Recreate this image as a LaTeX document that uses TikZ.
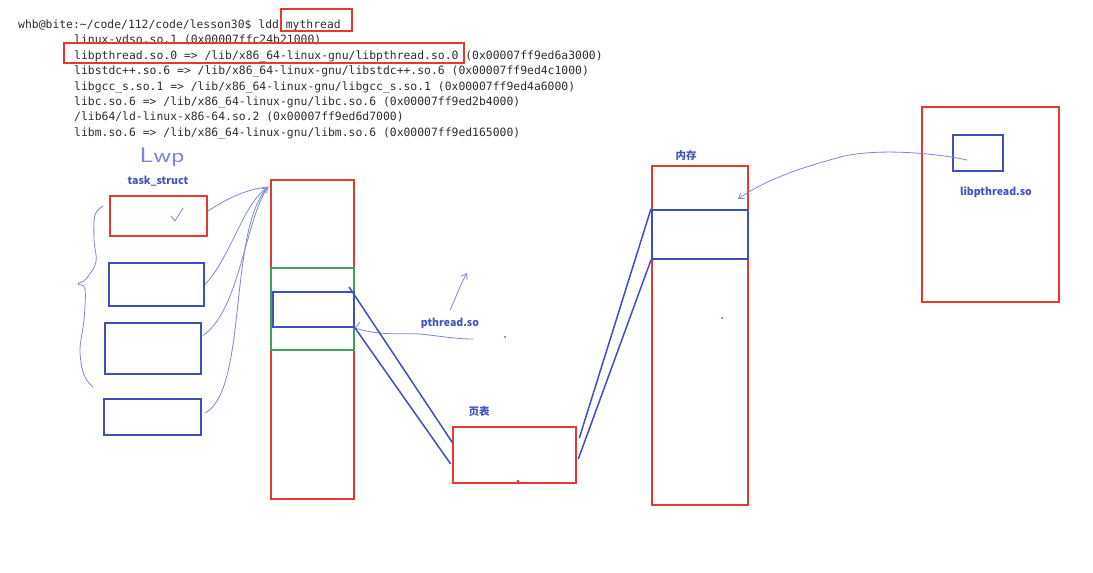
\documentclass[tikz,border=0pt]{standalone}
\usepackage{fontspec}
\setmonofont{DejaVu Sans Mono}
\newfontfamily\cjk{Noto Sans CJK SC}
\usetikzlibrary{calc,arrows.meta}
\definecolor{boxred}{HTML}{E8392E}
\definecolor{boxblue}{HTML}{3F4FBF}
\definecolor{boxgreen}{HTML}{3DA35D}
\definecolor{inkblue}{HTML}{7C88D4}
\definecolor{tagblue}{HTML}{4353C2}
\definecolor{termgray}{HTML}{2E2E2E}

\tikzset{
  termline/.style={anchor=base west, inner sep=0pt,
        font=\ttfamily\fontsize{11.4}{13}\selectfont, text=termgray},
  redbox/.style={rectangle, draw=boxred, line width=2.6pt, inner sep=0pt},
  bluebox/.style={rectangle, draw=boxblue, line width=2.1pt, inner sep=0pt},
  greenbox/.style={rectangle, draw=boxgreen, line width=1.5pt, inner sep=0pt},
  tag/.style={font=\cjk\bfseries\fontsize{10.5}{12}\selectfont, text=tagblue, inner sep=0pt},
  ink/.style={draw=inkblue, line width=0.8pt, line cap=round, line join=round},
  link/.style={draw=boxblue, line width=1.5pt},
  barb/.style={-{Straight Barb[length=5pt, width=7pt]}},
}

\begin{document}
\begin{tikzpicture}[x=1pt, y=-1pt]
  \useasboundingbox (0,0) rectangle (1093,573);

  % ldd output
  \node[termline] (term0) at (18,28)    {whb@bite:\string~/code/112/code/lesson30\$ ldd mythread};
  \node[termline] (term1) at (74,43.5)  {linux-vdso.so.1 (0x00007ffc24b21000)};
  \node[termline] (term2) at (74,59)    {libpthread.so.0 => /lib/x86\_64-linux-gnu/libpthread.so.0 (0x00007ff9ed6a3000)};
  \node[termline] (term3) at (74,74.5)  {libstdc++.so.6 => /lib/x86\_64-linux-gnu/libstdc++.so.6 (0x00007ff9ed4c1000)};
  \node[termline] (term4) at (74,90)    {libgcc\_s.so.1 => /lib/x86\_64-linux-gnu/libgcc\_s.so.1 (0x00007ff9ed4a6000)};
  \node[termline] (term5) at (74,105)   {libc.so.6 => /lib/x86\_64-linux-gnu/libc.so.6 (0x00007ff9ed2b4000)};
  \node[termline] (term6) at (74,120.5) {/lib64/ld-linux-x86-64.so.2 (0x00007ff9ed6d7000)};
  \node[termline] (term7) at (74,136)   {libm.so.6 => /lib/x86\_64-linux-gnu/libm.so.6 (0x00007ff9ed165000)};
  \node[redbox, line width=2.3pt, minimum width=71pt, minimum height=22pt] (progbox) at (316.5,20) {};
  \node[redbox, line width=2.3pt, minimum width=400pt, minimum height=20pt] (libbox) at (264,53) {};

  % threads
  \node[font=\sffamily\fontsize{21}{21}\selectfont, text=inkblue, inner sep=0pt, xscale=1.3] (lwp) at (162,157) {Lwp};
  \node[tag] (tslabel) at (158,181) {task\_struct};
  \node[redbox, minimum width=97pt, minimum height=40pt] (ts0) at (158.5,216) {};
  \node[bluebox, minimum width=95pt, minimum height=43pt] (ts1) at (156.5,284.5) {};
  \node[bluebox, minimum width=96pt, minimum height=51pt] (ts2) at (153,348.5) {};
  \node[bluebox, minimum width=97pt, minimum height=36pt] (ts3) at (152.5,417) {};
  \draw[ink] (171,216) -- (175,221) -- (183,208);
  \draw[ink] plot[smooth, tension=0.6] coordinates {(103,206) (95,215) (94,240) (96,262) (86,279) (78,284)
        (85,289) (84,320) (80,350) (84,375) (93,387)};

  % address space
  \node[redbox, minimum width=83pt, minimum height=319pt] (vmcol) at (312.5,339.5) {};
  \node[greenbox, minimum width=83pt, minimum height=82pt] (shared) at (312.5,309) {};
  \node[bluebox, minimum width=81pt, minimum height=35pt] (soarea) at (313.5,309.5) {};
  \coordinate (lwptip) at (268,187);
  \draw[ink] (208,211) .. controls (225,200) and (245,189) .. (lwptip);
  \draw[ink] (ts1.east) .. controls (232,255) and (242,205) .. (lwptip);
  \draw[ink] ($(ts2.east)+(1,-13)$) .. controls (240,310) and (245,220) .. (lwptip);
  \draw[ink, barb] ($(ts3.east)+(3,-4)$) .. controls (248,390) and (228,230) .. (lwptip);

  \node[tag] (solabel) at (450,323) {pthread.so};
  \draw[ink] (360,322) -- (soarea.south east) .. controls (380,336) and (400,333) .. (420,334)
        .. controls (440,336) and (455,339) .. (473,339);
  \draw[ink, barb] (450,310) .. controls (455,300) and (460,285) .. (467,273);

  % page table
  \node[tag] (ptlabel) at (479,412) {页表};
  \node[redbox, minimum width=123pt, minimum height=56pt] (pagetab) at (514.5,455) {};
  \draw[link] ($(soarea.north east)+(-6,-4)$) -- ($(pagetab.west)+(1,-12)$);
  \draw[link] (soarea.south east) -- ($(pagetab.west)+(-1,9)$);

  % physical memory
  \node[tag] (memlabel) at (686,156) {内存};
  \node[redbox, minimum width=96pt, minimum height=339pt] (memcol) at (700,335.5) {};
  \node[bluebox, minimum width=96pt, minimum height=49pt] (memso) at (700,234.5) {};
  \draw[link] ($(pagetab.east)+(2,-17)$) -- (memso.north west);
  \draw[link] ($(pagetab.east)+(1,4)$) -- (memso.south west);

  % disk
  \node[redbox, minimum width=137pt, minimum height=195pt] (disk) at (990.5,204.5) {};
  \node[bluebox, minimum width=50pt, minimum height=36pt] (diskso) at (978,153) {};
  \node[tag] (disklabel) at (996,192) {libpthread.so};
  \draw[ink, barb] (967,160) .. controls (930,152) and (870,148) .. (837,158)
        .. controls (800,168) and (765,180) .. (738,199);

  % stray dots
  \fill[boxblue] (505,337) circle (1pt);
  \fill[boxblue] (722,318) circle (1pt);
  \fill[boxred] (518,481) circle (1.5pt);
\end{tikzpicture}
\end{document}
